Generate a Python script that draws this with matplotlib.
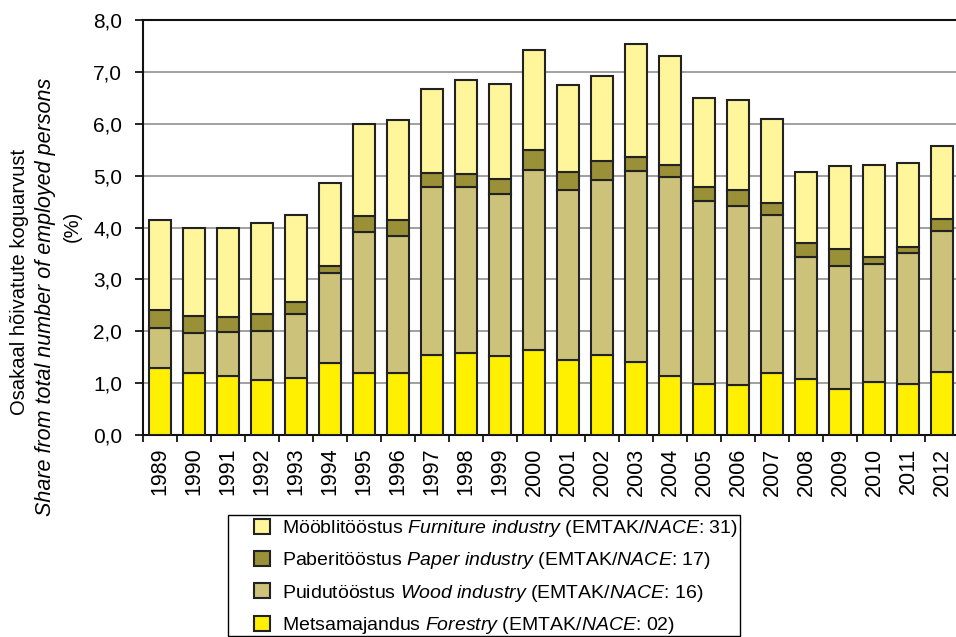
import matplotlib
matplotlib.use("Agg")
import matplotlib.pyplot as plt
from matplotlib.patches import Rectangle
import numpy as np

plt.rcParams['font.family'] = ['Liberation Sans', 'DejaVu Sans']
plt.rcParams['mathtext.fontset'] = 'custom'
plt.rcParams['mathtext.rm'] = 'Liberation Sans'
plt.rcParams['mathtext.it'] = 'Liberation Sans:italic'

years = [str(y) for y in range(1989, 2013)]

# share of employed persons, %
forestry = [1.29, 1.19, 1.14, 1.06, 1.09, 1.38, 1.19, 1.20, 1.54, 1.59, 1.53, 1.64,
            1.44, 1.55, 1.41, 1.14, 0.98, 0.96, 1.19, 1.08, 0.89, 1.02, 0.99, 1.21]
wood = [0.78, 0.78, 0.84, 0.95, 1.24, 1.74, 2.72, 2.64, 3.25, 3.20, 3.12, 3.47,
        3.29, 3.36, 3.68, 3.83, 3.54, 3.46, 3.05, 2.36, 2.37, 2.28, 2.51, 2.73]
paper = [0.34, 0.32, 0.30, 0.32, 0.23, 0.14, 0.31, 0.30, 0.27, 0.25, 0.28, 0.38,
         0.34, 0.37, 0.27, 0.24, 0.26, 0.30, 0.24, 0.26, 0.33, 0.13, 0.12, 0.22]
furniture = [1.73, 1.71, 1.72, 1.75, 1.69, 1.59, 1.77, 1.93, 1.61, 1.80, 1.84, 1.94,
             1.68, 1.64, 2.17, 2.10, 1.71, 1.73, 1.61, 1.37, 1.60, 1.77, 1.63, 1.42]

labels = [r"Metsamajandus $\it{Forestry}$ (EMTAK/$\it{NACE}$: 02)",
          r"Puidutööstus $\it{Wood\ industry}$ (EMTAK/$\it{NACE}$: 16)",
          r"Paberitööstus $\it{Paper\ industry}$ (EMTAK/$\it{NACE}$: 17)",
          r"Mööblitööstus $\it{Furniture\ industry}$ (EMTAK/$\it{NACE}$: 31)"]
colors = ['#FFEF00', '#CCC27A', '#9A9038', '#FFF59A']

W, H = 956, 637
fig = plt.figure(figsize=(W / 100, H / 100), dpi=100)
ax = fig.add_axes([143 / W, 1 - 435 / H, 816 / W, 415 / H])

x = np.arange(len(years))
bottom = np.zeros(len(years))
handles = []
for vals, col, lab in zip([forestry, wood, paper, furniture], colors, labels):
    b = ax.bar(x, vals, 0.66, bottom=bottom, color=col, edgecolor='#222222',
               linewidth=1.5, label=lab, zorder=3)
    handles.append(b)
    bottom += np.array(vals)

ax.set_xlim(-0.5, len(years) - 0.5)
ax.set_ylim(0, 8)
yt = np.arange(0, 8.1, 1)
ax.set_yticks(yt)
ax.set_yticklabels([f"{v:.1f}".replace('.', ',') for v in yt])
ax.yaxis.grid(True, color='#999999', linewidth=1.3, zorder=0)
ax.set_axisbelow(True)

ax.set_xticks(x)
ax.set_xticklabels(years, rotation=90)
ax.set_xticks(np.arange(-0.5, len(years), 1), minor=True)
ax.tick_params(axis='x', which='major', length=0, labelsize=15.5, pad=9)
ax.tick_params(axis='x', which='minor', length=5, width=1.2, direction='out')
ax.tick_params(axis='y', length=6, width=1.2, labelsize=15, pad=9)

for s in ax.spines.values():
    s.set_linewidth(1.5)
    s.set_color('#111111')

# y axis title, three lines
fig.text(20 / W, 1 - 282 / H, "Osakaal hõivatute koguarvust", rotation=90,
         ha='center', va='center', fontsize=14.5)
fig.text(46 / W, 1 - 297 / H, "Share from total number of employed persons",
         rotation=90, ha='center', va='center', fontsize=15.5, style='italic')
fig.text(72 / W, 1 - 226 / H, "(%)", rotation=90, ha='center', va='center',
         fontsize=14.5)

# legend box
fig.patches.append(Rectangle((228 / W, 1 - 636 / H), 512 / W, 121 / H,
                             transform=fig.transFigure, fill=False,
                             edgecolor='black', linewidth=1.0))
leg = fig.legend(handles[::-1], labels[::-1], loc='center left',
                 bbox_to_anchor=(254 / W, 1 - 577 / H), fontsize=14,
                 frameon=False, handlelength=0.8, handleheight=0.8,
                 handletextpad=0.65, labelspacing=0.58, borderpad=0,
                 borderaxespad=0)

fig.savefig("out.png", dpi=100)
